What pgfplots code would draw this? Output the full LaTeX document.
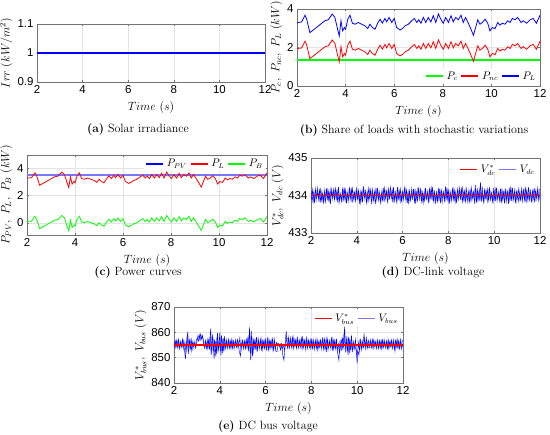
\documentclass[border=0pt]{standalone}
\usepackage{fontspec}
\usepackage{pgfplots}
\pgfplotsset{compat=1.18}
\usepackage{pgfplotstable}
\newfontfamily\arialfont{Liberation Sans}
\definecolor{pvblue}{RGB}{120,120,255}
\definecolor{axgray}{RGB}{115,115,115}
\definecolor{lblue}{RGB}{120,120,255}
\definecolor{mblue}{RGB}{0,0,255}
\definecolor{mred}{RGB}{255,0,0}
\definecolor{mgreen}{RGB}{0,255,0}

\pgfplotstableread{
t PL Pnc PB
2.00 3.28 1.93 0.08
2.05 3.30 1.95 0.10
2.19 3.33 1.98 0.13
2.33 3.68 2.33 0.48
2.40 3.47 2.12 0.27
2.53 2.77 1.42 -0.43
2.67 2.91 1.56 -0.29
2.88 3.12 1.77 -0.08
3.02 3.26 1.91 0.06
3.15 3.39 2.04 0.19
3.29 3.44 2.09 0.24
3.45 3.74 2.39 0.54
3.56 3.56 2.21 0.36
3.67 2.95 1.60 -0.25
3.74 2.60 1.25 -0.60
3.81 3.39 2.04 0.19
3.88 2.86 1.51 -0.34
3.95 3.04 1.69 -0.16
4.00 2.95 1.60 -0.25
4.09 3.47 2.12 0.27
4.18 3.68 2.33 0.48
4.28 3.26 1.91 0.06
4.39 3.21 1.86 0.01
4.52 3.30 1.95 0.10
4.66 3.21 1.86 0.01
4.80 3.12 1.77 -0.08
4.91 2.98 1.63 -0.22
5.00 3.21 1.86 0.01
5.10 3.04 1.69 -0.16
5.21 2.95 1.60 -0.25
5.32 3.26 1.91 0.06
5.42 3.47 2.12 0.27
5.51 3.26 1.91 0.06
5.62 3.51 2.16 0.31
5.69 3.33 1.98 0.13
5.79 3.56 2.21 0.36
5.90 3.30 1.95 0.10
6.00 3.51 2.16 0.31
6.10 3.04 1.69 -0.16
6.24 2.91 1.56 -0.29
6.33 2.98 1.63 -0.22
6.44 3.12 1.77 -0.08
6.58 3.21 1.86 0.01
6.72 3.39 2.04 0.19
6.83 3.51 2.16 0.31
6.93 3.30 1.95 0.10
7.01 3.44 2.09 0.24
7.10 3.26 1.91 0.06
7.20 3.56 2.21 0.36
7.30 3.30 1.95 0.10
7.40 3.56 2.21 0.36
7.51 3.33 1.98 0.13
7.61 3.65 2.30 0.45
7.71 3.30 1.95 0.10
7.82 3.74 2.39 0.54
7.93 3.44 2.09 0.24
8.02 3.26 1.91 0.06
8.12 3.56 2.21 0.36
8.23 3.30 1.95 0.10
8.34 3.65 2.30 0.45
8.43 3.33 1.98 0.13
8.53 3.56 2.21 0.36
8.64 3.44 2.09 0.24
8.75 3.68 2.33 0.48
8.84 3.30 1.95 0.10
8.94 3.56 2.21 0.36
9.05 3.26 1.91 0.06
9.16 2.95 1.60 -0.25
9.26 2.63 1.28 -0.57
9.35 3.04 1.69 -0.16
9.44 3.44 2.09 0.24
9.53 3.21 1.86 0.01
9.63 3.30 1.95 0.10
9.74 3.47 2.12 0.27
9.85 3.26 1.91 0.06
9.94 2.86 1.51 -0.34
10.04 3.04 1.69 -0.16
10.15 2.98 1.63 -0.22
10.26 3.30 1.95 0.10
10.35 3.16 1.81 -0.04
10.45 3.26 1.91 0.06
10.56 3.21 1.86 0.01
10.67 3.39 2.04 0.19
10.77 3.30 1.95 0.10
10.86 3.51 2.16 0.31
10.97 3.44 2.09 0.24
11.08 3.56 2.21 0.36
11.22 3.30 1.95 0.10
11.31 3.39 2.04 0.19
11.45 3.26 1.91 0.06
11.59 3.44 2.09 0.24
11.72 3.51 2.16 0.31
11.85 3.26 1.91 0.06
11.93 3.47 2.12 0.27
12.00 3.68 2.33 0.48
}\loads

\pgfplotsset{
  base/.style={
    scale only axis, anchor=south west,
    xmin=2, xmax=12, xtick={2,4,6,8,10,12},
    grid=major, grid style={draw=gray!22, line width=0.4pt},
    axis line style={draw=axgray, line width=0.4pt},
    tick align=inside, major tick length=2pt, tick style={draw=axgray, line width=0.4pt},
    ticklabel style={font=\arialfont\fontsize{11.5}{11.5}\selectfont},
    /pgf/number format/assume math mode=true,
    label style={font=\fontsize{11.5}{11.5}\selectfont},
    xlabel={$Time\ (s)$},
    xlabel style={yshift=-1pt},
    ylabel style={yshift=-2pt},
    legend style={draw=none, fill=white, font=\fontsize{10.5}{10.5}\selectfont,
      inner sep=1pt, column sep=1pt},
    legend cell align=left,
    legend image post style={line width=1.5pt},
  }
}

\begin{document}
\begin{tikzpicture}
\useasboundingbox (0,0) rectangle (550bp,435bp);

% (a)
\begin{axis}[base, at={(37bp,353bp)}, width=228bp, height=58bp,
  ymin=0.9, ymax=1.1, ytick={0.9,1,1.1},
  ylabel={$Irr\ (kW/m^2)$}]
\addplot[draw=mblue, line width=1.1pt] coordinates {(2,1)(4,1)(6,1)(8,1)(10,1)(12,1)};
\end{axis}

% (b)
\begin{axis}[base, at={(297bp,349bp)}, width=243bp, height=77bp,
  ymin=0, ymax=4, ytick={0,2,4},
  ylabel={$P_c,\ P_{nc},\ P_L\ (kW)$},
  legend columns=3,
  legend style={at={(0.995,0.03)}, anchor=south east}]
\addplot[draw=mgreen, line width=1.1pt] coordinates {(2,1.35)(12,1.35)};
\addlegendentry{$P_c$}
\addplot[draw=mred, line width=0.8pt] table[x=t, y=Pnc] {\loads};
\addlegendentry{$P_{nc}$}
\addplot[draw=mblue, line width=0.8pt] table[x=t, y=PL] {\loads};
\addlegendentry{$P_L$}
\end{axis}

% (c)
\begin{axis}[base, at={(27bp,200bp)}, width=240bp, height=80bp,
  ymin=-0.9, ymax=5, ytick={0,2,4},
  ylabel={$P_{PV},\ P_L,\ P_B\ (kW)$},
  legend columns=3,
  legend style={at={(0.995,0.985)}, anchor=north east}]
\addplot[draw=pvblue, line width=2.2pt, forget plot] coordinates {(2,3.5)(12,3.5)};
\addplot[draw=mred, line width=0.8pt, forget plot] table[x=t, y=PL] {\loads};
\addplot[draw=mgreen, line width=0.8pt, forget plot] table[x=t, y=PB] {\loads};
\addlegendimage{draw=mblue, line width=1.5pt}
\addlegendentry{$P_{PV}$}
\addlegendimage{draw=mred, line width=1.5pt}
\addlegendentry{$P_L$}
\addlegendimage{draw=mgreen, line width=1.5pt}
\addlegendentry{$P_B$}
\end{axis}

% (d)
\begin{axis}[base, at={(311bp,202bp)}, width=229bp, height=75bp,
  ymin=433, ymax=435, ytick={433,434,435},
  ylabel={$V_{dc}^{*},\ V_{dc}\ (V)$},
  legend columns=2,
  legend style={at={(0.99,0.95)}, anchor=north east}]
\addplot[draw=mblue, line width=0.45pt, forget plot] coordinates {
(2.00,434.12)(2.05,433.85)(2.10,434.08)(2.15,433.80)(2.20,434.18)(2.25,433.94)(2.30,434.10)(2.35,433.83)(2.40,434.21)(2.45,433.88)
(2.50,434.05)(2.55,433.81)(2.60,434.15)(2.65,433.92)(2.70,434.20)(2.75,433.86)(2.80,434.07)(2.85,433.78)(2.90,434.13)(2.95,433.90)
(3.00,434.17)(3.05,433.95)(3.10,434.11)(3.15,433.82)(3.20,434.23)(3.25,433.87)(3.30,434.03)(3.35,433.84)(3.40,434.19)(3.45,433.91)
(3.50,434.14)(3.55,433.79)(3.60,434.06)(3.65,433.88)(3.70,434.18)(3.75,433.83)(3.80,434.22)(3.85,433.93)(3.90,434.09)(3.95,433.85)
(4.00,434.16)(4.05,433.89)(4.10,434.04)(4.15,433.80)(4.20,434.12)(4.25,433.82)(4.30,434.25)(4.35,433.90)(4.40,434.08)(4.45,433.86)
(4.50,434.19)(4.55,433.94)(4.60,434.13)(4.65,433.77)(4.70,434.10)(4.75,433.84)(4.80,434.17)(4.85,433.91)(4.90,434.21)(4.95,433.87)
(5.00,434.06)(5.05,433.82)(5.10,434.15)(5.15,433.89)(5.20,434.20)(5.25,433.93)(5.30,434.12)(5.35,433.79)(5.40,434.16)(5.45,433.96)
(5.50,434.09)(5.55,433.83)(5.60,434.22)(5.65,433.88)(5.70,434.07)(5.75,433.81)(5.80,434.14)(5.85,433.90)(5.90,434.18)(5.95,433.85)
(6.00,434.11)(6.05,433.92)(6.10,434.24)(6.15,433.84)(6.20,434.05)(6.25,433.80)(6.30,434.13)(6.35,433.88)(6.40,434.19)(6.45,433.94)
(6.50,434.15)(6.55,433.78)(6.60,434.08)(6.65,433.86)(6.70,434.21)(6.75,433.90)(6.80,434.17)(6.85,433.82)(6.90,434.04)(6.95,433.87)
(7.00,434.20)(7.05,433.91)(7.10,434.12)(7.15,433.81)(7.20,434.16)(7.25,433.93)(7.30,434.23)(7.35,433.85)(7.40,434.10)(7.45,433.83)
(7.50,434.06)(7.55,433.88)(7.60,434.18)(7.65,433.79)(7.70,434.14)(7.75,433.95)(7.80,434.11)(7.85,433.84)(7.90,434.20)(7.95,433.89)
(8.00,434.13)(8.05,433.82)(8.10,434.07)(8.15,433.90)(8.20,434.22)(8.25,433.86)(8.30,434.09)(8.35,433.80)(8.40,434.17)(8.45,433.92)
(8.50,434.16)(8.55,433.87)(8.60,434.25)(8.65,433.91)(8.70,434.12)(8.75,433.83)(8.80,434.05)(8.85,433.81)(8.90,434.14)(8.95,433.88)
(9.00,434.21)(9.05,433.94)(9.10,434.10)(9.15,433.78)(9.20,434.18)(9.25,433.85)(9.30,434.08)(9.35,433.89)(9.40,434.35)(9.45,433.84)
(9.50,434.07)(9.55,433.80)(9.60,434.14)(9.65,433.92)(9.70,434.17)(9.75,433.87)(9.80,434.22)(9.85,433.90)(9.90,434.06)(9.95,433.82)
(10.00,434.12)(10.05,433.85)(10.10,434.20)(10.15,433.93)(10.20,434.11)(10.25,433.81)(10.30,434.15)(10.35,433.88)(10.40,434.09)(10.45,433.79)
(10.50,434.18)(10.55,433.90)(10.60,434.13)(10.65,433.83)(10.70,434.24)(10.75,433.86)(10.80,434.20)(10.85,433.92)(10.90,434.16)(10.95,433.80)
(11.00,434.10)(11.05,433.84)(11.10,434.07)(11.15,433.88)(11.20,434.19)(11.25,433.91)(11.30,434.15)(11.35,433.82)(11.40,434.13)(11.45,433.93)
(11.50,434.22)(11.55,433.89)(11.60,434.08)(11.65,433.85)(11.70,434.17)(11.75,433.81)(11.80,434.11)(11.85,433.94)(11.90,434.20)(11.95,433.86)
(12.00,434.09)};
\addplot[draw=mblue, line width=0.45pt, forget plot] coordinates {
(2.025,433.90)(2.075,434.16)(2.125,433.82)(2.175,434.09)(2.225,433.87)(2.275,434.20)(2.325,433.93)(2.375,434.14)(2.425,433.81)(2.475,434.11)
(2.525,433.84)(2.575,434.07)(2.625,433.79)(2.675,434.18)(2.725,433.91)(2.775,434.12)(2.825,433.83)(2.875,434.22)(2.925,433.95)(2.975,434.15)
(3.025,433.88)(3.075,434.19)(3.125,433.92)(3.175,434.13)(3.225,433.80)(3.275,434.06)(3.325,433.85)(3.375,434.17)(3.425,433.89)(3.475,434.21)
(3.525,433.82)(3.575,434.10)(3.625,433.86)(3.675,434.23)(3.725,433.94)(3.775,434.16)(3.825,433.81)(3.875,434.08)(3.925,433.87)(3.975,434.18)
(4.025,433.91)(4.075,434.14)(4.125,433.78)(4.175,434.11)(4.225,433.84)(4.275,434.19)(4.325,433.96)(4.375,434.13)(4.425,433.80)(4.475,434.07)
(4.525,433.85)(4.575,434.21)(4.625,433.90)(4.675,434.17)(4.725,433.88)(4.775,434.08)(4.825,433.77)(4.875,434.15)(4.925,433.93)(4.975,434.12)
(5.025,433.81)(5.075,434.06)(5.125,433.87)(5.175,434.20)(5.225,433.83)(5.275,434.14)(5.325,433.92)(5.375,434.18)(5.425,433.89)(5.475,434.22)
(5.525,433.95)(5.575,434.16)(5.625,433.80)(5.675,434.10)(5.725,433.86)(5.775,434.23)(5.825,433.91)(5.875,434.12)(5.925,433.82)(5.975,434.08)
(6.025,433.87)(6.075,434.19)(6.125,433.93)(6.175,434.15)(6.225,433.79)(6.275,434.11)(6.325,433.84)(6.375,434.06)(6.425,433.90)(6.475,434.17)
(6.525,433.80)(6.575,434.13)(6.625,433.88)(6.675,434.22)(6.725,433.92)(6.775,434.17)(6.825,433.85)(6.875,434.09)(6.925,433.81)(6.975,434.14)
(7.025,433.89)(7.075,434.07)(7.125,433.83)(7.175,434.18)(7.225,433.94)(7.275,434.21)(7.325,433.87)(7.375,434.15)(7.425,433.78)(7.475,434.10)
(7.525,433.84)(7.575,434.20)(7.625,433.91)(7.675,434.12)(7.725,433.81)(7.775,434.08)(7.825,433.86)(7.875,434.24)(7.925,433.93)(7.975,434.16)
(8.025,433.79)(8.075,434.11)(8.125,433.85)(8.175,434.19)(8.225,433.90)(8.275,434.14)(8.325,433.82)(8.375,434.06)(8.425,433.88)(8.475,434.20)
(8.525,433.92)(8.575,434.17)(8.625,433.80)(8.675,434.13)(8.725,433.84)(8.775,434.22)(8.825,433.95)(8.875,434.10)(8.925,433.83)(8.975,434.12)
(9.025,433.86)(9.075,434.09)(9.125,433.88)(9.175,434.28)(9.225,433.81)(9.275,434.16)(9.325,433.90)(9.375,434.20)(9.425,433.85)(9.475,434.24)
(9.525,433.82)(9.575,434.15)(9.625,433.93)(9.675,434.11)(9.725,433.79)(9.775,434.19)(9.825,433.87)(9.875,434.08)(9.925,433.84)(9.975,434.17)
(10.025,433.90)(10.075,434.22)(10.125,433.85)(10.175,434.06)(10.225,433.88)(10.275,434.18)(10.325,433.80)(10.375,434.13)(10.425,433.92)(10.475,434.14)
(10.525,433.83)(10.575,434.12)(10.625,433.78)(10.675,434.16)(10.725,433.91)(10.775,434.20)(10.825,433.86)(10.875,434.07)(10.925,433.82)(10.975,434.11)
(11.025,433.94)(11.075,434.19)(11.125,433.87)(11.175,434.10)(11.225,433.84)(11.275,434.15)(11.325,433.89)(11.375,434.23)(11.425,433.80)(11.475,434.09)
(11.525,433.86)(11.575,434.16)(11.625,433.82)(11.675,434.12)(11.725,433.93)(11.775,434.21)(11.825,433.85)(11.875,434.13)(11.925,433.90)(11.975,434.18)};
\addplot[draw=mred, line width=1.1pt, forget plot] coordinates {(2,434)(7,434)(12,434)};
\addlegendimage{draw=mred, line width=1.5pt}
\addlegendentry{$V_{dc}^{*}$}
\addlegendimage{draw=lblue, line width=1.5pt}
\addlegendentry{$V_{dc}$}
\end{axis}

% (e)
\begin{axis}[base, at={(174bp,52bp)}, width=229bp, height=76bp,
  ymin=840, ymax=870, ytick={840,850,860,870},
  ylabel={$V_{bus}^{*},\ V_{bus}\ (V)$},
  legend columns=2,
  legend style={at={(0.99,0.95)}, anchor=north east}]
\addplot[draw=mblue, line width=0.45pt, forget plot] coordinates {
(2.00,856.5)(2.05,853.8)(2.10,856.9)(2.15,854.0)(2.20,857.2)(2.25,853.5)(2.30,856.3)(2.35,854.2)(2.40,856.8)(2.45,853.6)
(2.50,849.5)(2.55,856.0)(2.60,860.2)(2.65,853.0)(2.70,857.5)(2.75,852.5)(2.80,856.0)(2.85,854.5)(2.90,855.8)(2.95,853.8)
(3.00,856.5)(3.05,858.8)(3.10,857.2)(3.15,859.3)(3.20,857.5)(3.25,858.6)(3.30,855.5)(3.35,854.0)(3.40,856.2)(3.45,853.5)
(3.50,857.0)(3.55,853.2)(3.60,861.5)(3.65,852.0)(3.70,858.0)(3.75,849.5)(3.80,856.5)(3.85,851.5)(3.90,859.8)(3.95,853.0)
(4.00,860.0)(4.05,850.8)(4.10,857.5)(4.15,852.5)(4.20,858.5)(4.25,853.8)(4.30,857.0)(4.35,854.0)(4.40,856.8)(4.45,853.5)
(4.50,857.2)(4.55,853.6)(4.60,856.5)(4.65,854.2)(4.70,857.0)(4.75,853.8)(4.80,856.0)(4.85,852.5)(4.90,850.6)(4.95,855.5)
(5.00,857.0)(5.05,853.4)(5.10,856.8)(5.15,854.0)(5.20,857.5)(5.25,852.5)(5.30,862.0)(5.35,849.0)(5.40,858.5)(5.45,851.5)
(5.50,857.5)(5.55,853.2)(5.60,858.2)(5.65,853.0)(5.70,856.8)(5.75,854.0)(5.80,857.8)(5.85,852.8)(5.90,856.5)(5.95,853.6)
(6.00,857.0)(6.05,852.8)(6.10,858.0)(6.15,853.5)(6.20,856.6)(6.25,854.2)(6.30,857.4)(6.35,853.0)(6.40,856.2)(6.45,852.5)
(6.50,852.5)(6.55,855.6)(6.60,855.2)(6.65,853.0)(6.70,855.4)(6.75,851.0)(6.80,849.0)(6.85,855.0)(6.90,860.5)(6.95,853.5)
(7.00,858.0)(7.05,854.0)(7.10,857.6)(7.15,853.8)(7.20,858.2)(7.25,854.5)(7.30,857.0)(7.35,853.6)(7.40,857.8)(7.45,854.2)
(7.50,857.2)(7.55,853.8)(7.60,858.5)(7.65,854.0)(7.70,856.8)(7.75,853.2)(7.80,857.5)(7.85,854.4)(7.90,856.5)(7.95,853.6)
(8.00,857.0)(8.05,853.5)(8.10,856.8)(8.15,854.0)(8.20,857.4)(8.25,852.8)(8.30,856.2)(8.35,854.2)(8.40,857.0)(8.45,853.4)
(8.50,858.0)(8.55,853.0)(8.60,856.5)(8.65,852.2)(8.70,857.2)(8.75,854.0)(8.80,856.8)(8.85,853.5)(8.90,858.2)(8.95,852.8)
(9.00,856.8)(9.05,853.5)(9.10,857.5)(9.15,851.5)(9.20,849.0)(9.25,857.0)(9.30,852.5)(9.35,858.0)(9.40,854.0)(9.45,862.2)
(9.50,852.0)(9.55,858.5)(9.60,851.0)(9.65,857.5)(9.70,853.0)(9.75,858.8)(9.80,852.2)(9.85,856.0)(9.90,854.5)(9.95,853.0)
(10.00,847.8)(10.05,856.0)(10.10,853.0)(10.15,857.0)(10.20,853.5)(10.25,855.5)(10.30,859.2)(10.35,854.0)(10.40,857.8)(10.45,853.8)
(10.50,856.8)(10.55,854.2)(10.60,856.5)(10.65,853.8)(10.70,857.0)(10.75,854.5)(10.80,856.2)(10.85,853.6)(10.90,856.8)(10.95,854.0)
(11.00,856.5)(11.05,853.5)(11.10,857.0)(11.15,854.2)(11.20,856.4)(11.25,853.8)(11.30,856.8)(11.35,853.4)(11.40,856.2)(11.45,854.4)
(11.50,857.0)(11.55,853.6)(11.60,856.5)(11.65,852.5)(11.70,856.8)(11.75,854.0)(11.80,856.4)(11.85,853.5)(11.90,857.2)(11.95,853.8)
(12.00,855.5)};
\addplot[draw=mblue, line width=0.45pt, forget plot] coordinates {
(2.025,853.9)(2.075,856.6)(2.125,854.3)(2.175,857.0)(2.225,853.7)(2.275,856.4)(2.325,854.1)(2.375,857.3)(2.425,853.5)(2.475,856.2)
(2.525,852.0)(2.575,858.5)(2.625,851.5)(2.675,856.8)(2.725,853.6)(2.775,857.2)(2.825,853.2)(2.875,856.6)(2.925,854.0)(2.975,857.0)
(3.025,857.5)(3.075,856.5)(3.125,859.0)(3.175,856.8)(3.225,858.9)(3.275,857.0)(3.325,853.8)(3.375,856.8)(3.425,853.6)(3.475,857.2)
(3.525,854.0)(3.575,858.5)(3.625,851.0)(3.675,859.2)(3.725,852.8)(3.775,857.2)(3.825,850.5)(3.875,858.0)(3.925,852.0)(3.975,856.5)
(4.025,853.0)(4.075,858.8)(4.125,851.8)(4.175,857.8)(4.225,853.2)(4.275,856.8)(4.325,853.6)(4.375,857.3)(4.425,853.8)(4.475,856.6)
(4.525,854.0)(4.575,857.0)(4.625,853.5)(4.675,856.9)(4.725,854.2)(4.775,857.2)(4.825,854.5)(4.875,857.8)(4.925,853.0)(4.975,856.6)
(5.025,853.8)(5.075,856.6)(5.125,853.5)(5.175,857.2)(5.225,854.2)(5.275,858.8)(5.325,852.0)(5.375,860.5)(5.425,850.5)(5.475,857.0)
(5.525,854.0)(5.575,856.8)(5.625,852.5)(5.675,857.5)(5.725,853.5)(5.775,857.0)(5.825,853.2)(5.875,856.8)(5.925,854.2)(5.975,857.2)
(6.025,853.4)(6.075,857.5)(6.125,853.0)(6.175,856.8)(6.225,853.8)(6.275,857.0)(6.325,852.8)(6.375,857.5)(6.425,853.5)(6.475,856.0)
(6.525,855.4)(6.575,855.0)(6.625,854.2)(6.675,855.6)(6.725,853.5)(6.775,855.2)(6.825,853.0)(6.875,855.4)(6.925,857.5)(6.975,857.5)
(7.025,853.8)(7.075,857.8)(7.125,854.2)(7.175,858.0)(7.225,853.6)(7.275,857.2)(7.325,854.6)(7.375,857.6)(7.425,853.8)(7.475,856.8)
(7.525,854.2)(7.575,857.6)(7.625,853.5)(7.675,857.2)(7.725,854.4)(7.775,857.8)(7.825,853.6)(7.875,857.0)(7.925,854.0)(7.975,857.3)
(8.025,854.0)(8.075,857.2)(8.125,853.2)(8.175,856.6)(8.225,853.8)(8.275,857.0)(8.325,853.5)(8.375,856.8)(8.425,854.0)(8.475,857.4)
(8.525,853.6)(8.575,857.5)(8.625,853.8)(8.675,857.8)(8.725,853.0)(8.775,856.5)(8.825,854.2)(8.875,857.6)(8.925,853.2)(8.975,857.0)
(9.025,854.0)(9.075,856.8)(9.125,853.0)(9.175,855.5)(9.225,852.0)(9.275,855.0)(9.325,857.0)(9.375,853.0)(9.425,859.5)(9.475,853.5)
(9.525,857.0)(9.575,852.5)(9.625,858.2)(9.675,851.8)(9.725,857.0)(9.775,853.0)(9.825,856.5)(9.875,853.5)(9.925,857.2)(9.975,851.5)
(10.025,852.5)(10.075,851.0)(10.125,857.5)(10.175,853.0)(10.225,856.5)(10.275,854.0)(10.325,857.5)(10.375,853.5)(10.425,856.6)(10.475,854.2)
(10.525,853.8)(10.575,857.0)(10.625,854.0)(10.675,857.2)(10.725,853.6)(10.775,856.8)(10.825,853.8)(10.875,857.0)(10.925,853.5)(10.975,856.8)
(11.025,853.8)(11.075,856.8)(11.125,853.6)(11.175,857.2)(11.225,854.0)(11.275,856.6)(11.325,853.5)(11.375,857.0)(11.425,854.0)(11.475,856.5)
(11.525,853.8)(11.575,857.0)(11.625,853.4)(11.675,856.8)(11.725,854.2)(11.775,857.4)(11.825,853.6)(11.875,856.8)(11.925,853.4)(11.975,857.0)};
\addplot[draw=mred, line width=1.1pt, forget plot] coordinates {(2,855)(7,855)(12,855)};
\addlegendimage{draw=mred, line width=1.5pt}
\addlegendentry{$V_{bus}^{*}$}
\addlegendimage{draw=lblue, line width=1.5pt}
\addlegendentry{$V_{bus}$}
\end{axis}

% captions
\node[font=\fontsize{12}{14}\selectfont] at (138bp,305bp) {\textbf{(a)} Solar irradiance};
\node[font=\fontsize{12}{14}\selectfont] at (414bp,304bp) {\textbf{(b)} Share of loads with stochastic variations};
\node[font=\fontsize{12}{14}\selectfont] at (138bp,162bp) {\textbf{(c)} Power curves};
\node[font=\fontsize{12}{14}\selectfont] at (433bp,162bp) {\textbf{(d)} DC-link voltage};
\node[font=\fontsize{12}{14}\selectfont] at (268bp,8bp) {\textbf{(e)} DC bus voltage};
\end{tikzpicture}
\end{document}
